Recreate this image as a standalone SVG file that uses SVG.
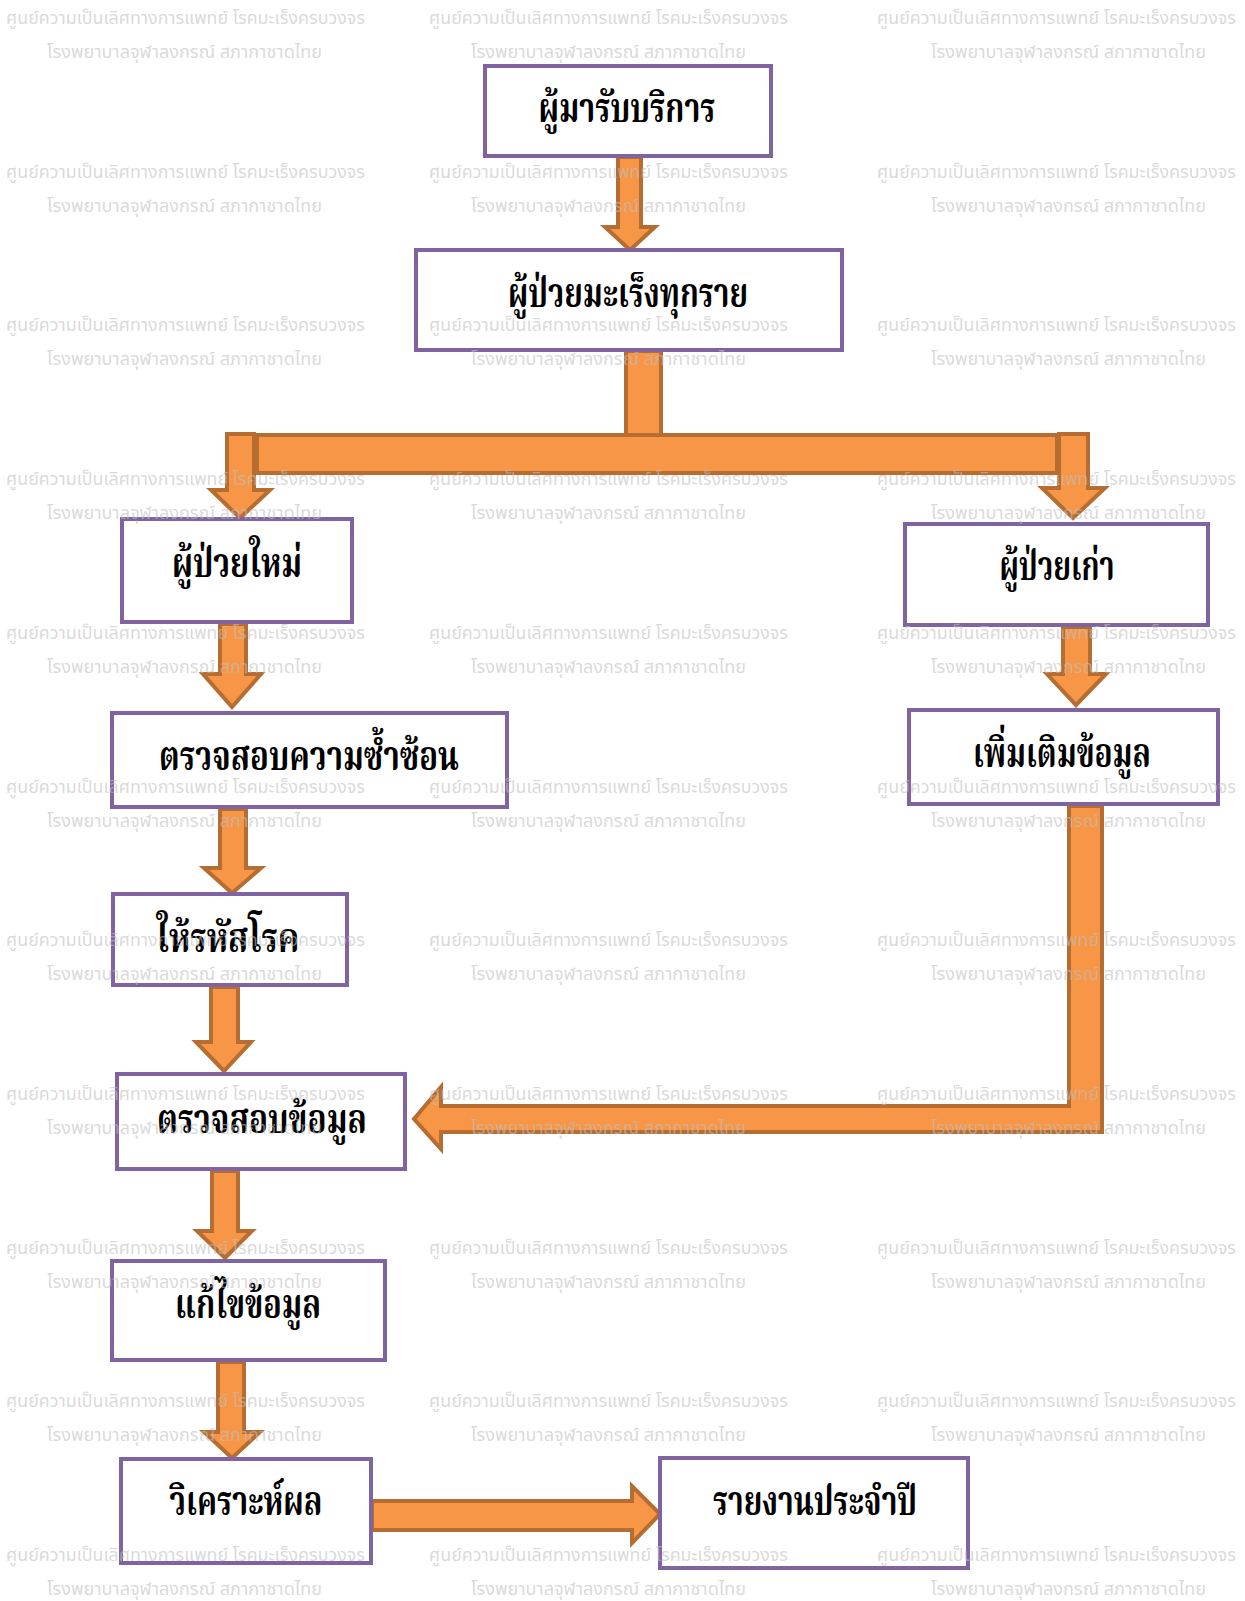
<svg xmlns="http://www.w3.org/2000/svg" xmlns:xlink="http://www.w3.org/1999/xlink" width="1245" height="1601" viewBox="0 0 1245 1601">
<style>
.box{fill:#ffffff;stroke:#8064A2;stroke-width:4}
.arr{fill:#F79646;stroke:#B66D31;stroke-width:4;stroke-linejoin:miter}
.lbl{font-family:"Noto Serif Thai","Noto Sans Thai","Liberation Serif",serif;font-weight:bold;font-size:41px;fill:#000;text-anchor:middle}
.wm{font-family:"Noto Sans Thai","Liberation Sans",sans-serif;font-size:18px;fill:#bfbfbf;fill-opacity:0.6}
</style>
<defs>
<g id="wmrow">
<text class="wm" x="6" y="24" textLength="359" lengthAdjust="spacingAndGlyphs">ศูนย์ความเป็นเลิศทางการแพทย์ โรคมะเร็งครบวงจร</text>
<text class="wm" x="47" y="58" textLength="275" lengthAdjust="spacingAndGlyphs">โรงพยาบาลจุฬาลงกรณ์ สภากาชาดไทย</text>
<text class="wm" x="429" y="24" textLength="359" lengthAdjust="spacingAndGlyphs">ศูนย์ความเป็นเลิศทางการแพทย์ โรคมะเร็งครบวงจร</text>
<text class="wm" x="471" y="58" textLength="275" lengthAdjust="spacingAndGlyphs">โรงพยาบาลจุฬาลงกรณ์ สภากาชาดไทย</text>
<text class="wm" x="877" y="24" textLength="359" lengthAdjust="spacingAndGlyphs">ศูนย์ความเป็นเลิศทางการแพทย์ โรคมะเร็งครบวงจร</text>
<text class="wm" x="931" y="58" textLength="275" lengthAdjust="spacingAndGlyphs">โรงพยาบาลจุฬาลงกรณ์ สภากาชาดไทย</text>
</g>
</defs>
<rect width="1245" height="1601" fill="#ffffff"/>
<g id="connectors">
<rect class="arr" x="257" y="435" width="800" height="38"/>
<polygon class="arr" points="618,157 641,157 641,227 655,227 630,250 605,227 618,227"/>
<rect class="arr" x="626" y="351" width="35" height="84"/>
<polygon class="arr" points="227,434 254,434 254,490 270,490 240,518 211,490 227,490"/>
<polygon class="arr" points="1059,434 1088,434 1088,488 1105,488 1073,518 1042,488 1059,488"/>
<polygon class="arr" points="1063,627 1090,627 1090,674 1106,674 1076,705 1047,674 1063,674"/>
<polygon class="arr" points="220,624 246,624 246,674 261,674 232,707 203,674 220,674"/>
<polygon class="arr" points="220,809 246,809 246,868 261,868 232,893 204,868 220,868"/>
<polygon class="arr" points="211,987 238,987 238,1042 251,1042 224,1071 196,1042 211,1042"/>
<polygon class="arr" points="212,1171 238,1171 238,1231 252,1231 225,1258 197,1231 212,1231"/>
<polygon class="arr" points="218,1362 244,1362 244,1432 260,1432 232,1458 204,1432 218,1432"/>
<polygon class="arr" points="372,1501 632,1501 632,1486 660,1514 632,1543 632,1530 372,1530"/>
<polygon class="arr" points="1069,806 1102,806 1102,1132 441,1132 441,1149 414,1119 441,1087 441,1106 1069,1106"/>
</g>
<g id="n1"><rect class="box" x="485" y="66" width="286" height="90"/><text class="lbl" x="627" y="122" textLength="177" lengthAdjust="spacingAndGlyphs">ผู้มารับบริการ</text></g>
<g id="n2"><rect class="box" x="416" y="250" width="426" height="100"/><text class="lbl" x="628" y="307" textLength="240" lengthAdjust="spacingAndGlyphs">ผู้ป่วยมะเร็งทุกราย</text></g>
<g id="n3"><rect class="box" x="122" y="519" width="230" height="103"/><text class="lbl" x="237" y="577" textLength="130" lengthAdjust="spacingAndGlyphs">ผู้ป่วยใหม่</text></g>
<g id="n4"><rect class="box" x="905" y="524" width="303" height="101"/><text class="lbl" x="1057" y="580" textLength="115" lengthAdjust="spacingAndGlyphs">ผู้ป่วยเก่า</text></g>
<g id="n5"><rect class="box" x="112" y="713" width="395" height="94"/><text class="lbl" x="309" y="770" textLength="300" lengthAdjust="spacingAndGlyphs">ตรวจสอบความซ้ำซ้อน</text></g>
<g id="n6"><rect class="box" x="909" y="710" width="309" height="94"/><text class="lbl" x="1062" y="767" textLength="178" lengthAdjust="spacingAndGlyphs">เพิ่มเติมข้อมูล</text></g>
<g id="n7"><rect class="box" x="113" y="894" width="234" height="91"/><text class="lbl" x="228" y="952" textLength="143" lengthAdjust="spacingAndGlyphs">ให้รหัสโรค</text></g>
<g id="n8"><rect class="box" x="117" y="1074" width="288" height="95"/><text class="lbl" x="262" y="1133" textLength="210" lengthAdjust="spacingAndGlyphs">ตรวจสอบข้อมูล</text></g>
<g id="n9"><rect class="box" x="112" y="1261" width="273" height="99"/><text class="lbl" x="248" y="1318" textLength="146" lengthAdjust="spacingAndGlyphs">แก้ไขข้อมูล</text></g>
<g id="n10"><rect class="box" x="121" y="1459" width="250" height="104"/><text class="lbl" x="246" y="1515" textLength="153" lengthAdjust="spacingAndGlyphs">วิเคราะห์ผล</text></g>
<g id="n11"><rect class="box" x="660" y="1458" width="308" height="110"/><text class="lbl" x="815" y="1515" textLength="204" lengthAdjust="spacingAndGlyphs">รายงานประจำปี</text></g>
<g id="watermark">
<use href="#wmrow" xlink:href="#wmrow"/>
<use href="#wmrow" xlink:href="#wmrow" transform="translate(0,153.7)"/>
<use href="#wmrow" xlink:href="#wmrow" transform="translate(0,307.4)"/>
<use href="#wmrow" xlink:href="#wmrow" transform="translate(0,461.1)"/>
<use href="#wmrow" xlink:href="#wmrow" transform="translate(0,614.8)"/>
<use href="#wmrow" xlink:href="#wmrow" transform="translate(0,768.5)"/>
<use href="#wmrow" xlink:href="#wmrow" transform="translate(0,922.2)"/>
<use href="#wmrow" xlink:href="#wmrow" transform="translate(0,1075.9)"/>
<use href="#wmrow" xlink:href="#wmrow" transform="translate(0,1229.6)"/>
<use href="#wmrow" xlink:href="#wmrow" transform="translate(0,1383.3)"/>
<use href="#wmrow" xlink:href="#wmrow" transform="translate(0,1537)"/>
</g>
</svg>
